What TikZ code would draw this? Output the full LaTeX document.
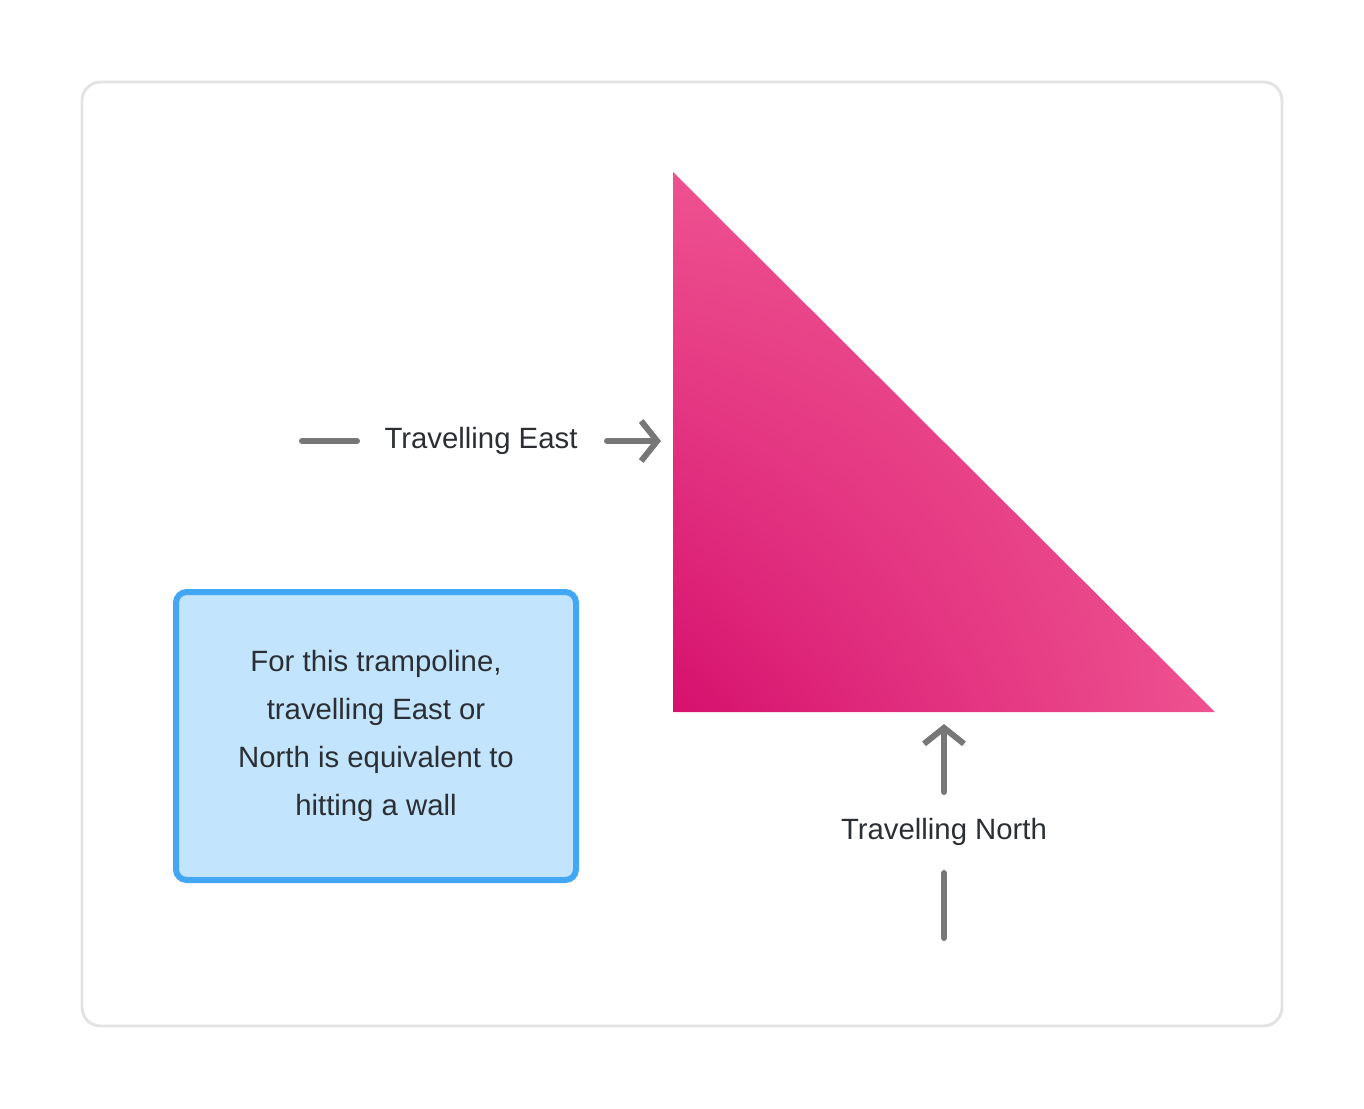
\documentclass[tikz,border=0pt]{standalone}
\usepackage{fontspec}
\setmainfont{Liberation Sans}
\usetikzlibrary{arrows.meta,positioning,shadings}
\definecolor{arrowgray}{HTML}{777777}
\definecolor{framegray}{HTML}{E3E3E3}
\definecolor{notefill}{HTML}{C2E4FD}
\definecolor{noteline}{HTML}{42A8F5}
\definecolor{pinkdark}{HTML}{D6106E}
\definecolor{pinklight}{HTML}{EE5290}
\definecolor{textgray}{HTML}{2B2F33}
\tikzset{
  dirarrow/.style={line width=4.5pt,arrowgray,line cap=round,-{Straight Barb[length=12pt,width=30pt,line width=4.5pt]}},
  dirtail/.style={line width=4.5pt,arrowgray,line cap=round},
  dirlabel/.style={text=textgray,font=\fontsize{22}{30}\selectfont,inner sep=0pt},
  notebox/.style={draw=noteline,fill=notefill,line width=4.5pt,rounded corners=8pt,text=textgray,
    minimum width=300pt,minimum height=216pt,align=center,font=\fontsize{22}{36}\selectfont}
}
\begin{document}
\begin{tikzpicture}[x=0.75pt,y=-0.75pt]
  \useasboundingbox (0,0) rectangle (1364,1108);
  \draw[framegray,line width=2.2pt,rounded corners=14pt] (82,82) rectangle (1282,1026);
  % the ramp
  \shade[lower left=pinkdark,upper left=pinklight,upper right=pinklight,lower right=pinklight]
    (673,172) -- (673,712) -- (1215,712) -- cycle;
  % east
  \coordinate (eastfrom) at (302,441);
  \coordinate (eastto) at (357,441);
  \node[dirlabel] (east) at (481,441) {Travelling East};
  \coordinate (eastgo) at (607,441);
  \coordinate (easthit) at (661,441);
  \draw[dirtail] (eastfrom) -- (eastto);
  \draw[dirarrow] (eastgo) -- (easthit);
  % north
  \coordinate (northgo) at (944,792);
  \coordinate (northhit) at (944,724);
  \node[dirlabel] (north) at (944,832) {Travelling North};
  \coordinate (northfrom) at (944,873);
  \coordinate (northto) at (944,938);
  \draw[dirarrow] (northgo) -- (northhit);
  \draw[dirtail] (northfrom) -- (northto);
  % note
  \node[notebox] (note) at (376,736) {For this trampoline,\\travelling East or\\North is equivalent to\\hitting a wall};
\end{tikzpicture}
\end{document}
